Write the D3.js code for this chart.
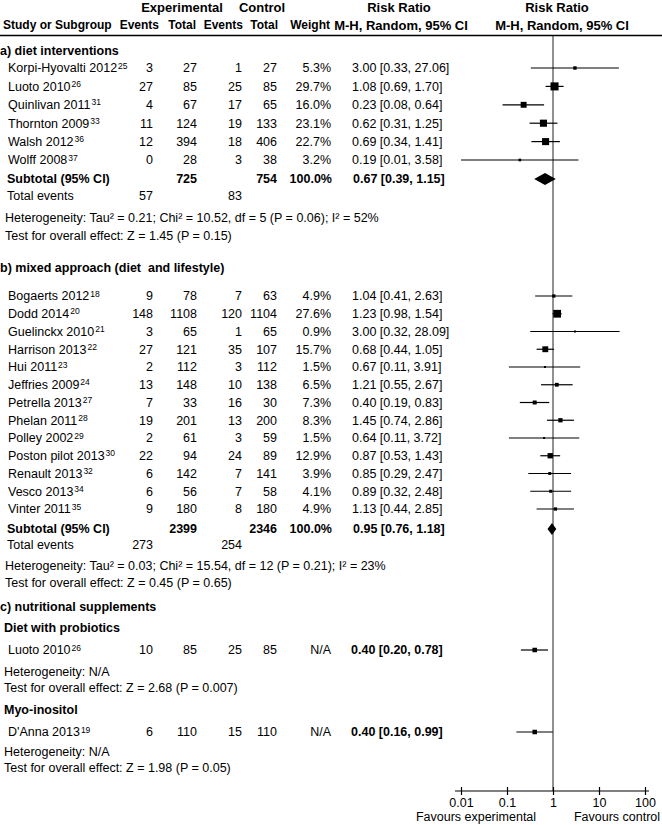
<!DOCTYPE html>
<html>
<head>
<meta charset="utf-8">
<script src="https://cdn.jsdelivr.net/npm/d3@7"></script>
<style>
  body { margin: 0; background: #fff; }
  text { font-family: "Liberation Sans", Arial, sans-serif; font-size: 12.5px; fill: #000; }
  .b { font-weight: bold; }
  .h { font-size: 13px; }
  .hs { font-size: 12px; }
</style>
</head>
<body>
<script>
// studier (gruppe a = diet, b = mixed, c1 = probiotics, c2 = myo-inositol)
const studies = ["Korpi-Hyovalti 2012", "Luoto 2010", "Quinlivan 2011", "Thornton 2009", "Walsh 2012", "Wolff 2008",
  "Bogaerts 2012", "Dodd 2014", "Guelinckx 2010", "Harrison 2013", "Hui 2011", "Jeffries 2009", "Petrella 2013",
  "Phelan 2011", "Polley 2002", "Poston pilot 2013", "Renault 2013", "Vesco 2013", "Vinter 2011",
  "Luoto 2010", "D'Anna 2013"];
const refs = ["25", "26", "31", "33", "36", "37", "18", "20", "21", "22", "23", "24", "27", "28", "29", "30", "32", "34", "35", "26", "19"];
const groups = ["a", "a", "a", "a", "a", "a", "b", "b", "b", "b", "b", "b", "b", "b", "b", "b", "b", "b", "b", "c1", "c2"];
const expEvents = [3, 27, 4, 11, 12, 0, 9, 148, 3, 27, 2, 13, 7, 19, 2, 22, 6, 6, 9, 10, 6];
const expTotal = [27, 85, 67, 124, 394, 28, 78, 1108, 65, 121, 112, 148, 33, 201, 61, 94, 142, 56, 180, 85, 110];
const ctrlEvents = [1, 25, 17, 19, 18, 3, 7, 120, 1, 35, 3, 10, 16, 13, 3, 24, 7, 7, 8, 25, 15];
const ctrlTotal = [27, 85, 65, 133, 406, 38, 63, 1104, 65, 107, 112, 138, 30, 200, 59, 89, 141, 58, 180, 85, 110];
const weights = [5.3, 29.7, 16.0, 23.1, 22.7, 3.2, 4.9, 27.6, 0.9, 15.7, 1.5, 6.5, 7.3, 8.3, 1.5, 12.9, 3.9, 4.1, 4.9, null, null];
const rr = [3.00, 1.08, 0.23, 0.62, 0.69, 0.19, 1.04, 1.23, 3.00, 0.68, 0.67, 1.21, 0.40, 1.45, 0.64, 0.87, 0.85, 0.89, 1.13, 0.40, 0.40];
const ciLow = [0.33, 0.69, 0.08, 0.31, 0.34, 0.01, 0.41, 0.98, 0.32, 0.44, 0.11, 0.55, 0.19, 0.74, 0.11, 0.53, 0.29, 0.32, 0.44, 0.20, 0.16];
const ciHigh = [27.06, 1.70, 0.64, 1.25, 1.41, 3.58, 2.63, 1.54, 28.09, 1.05, 3.91, 2.67, 0.83, 2.86, 3.72, 1.43, 2.47, 2.48, 2.85, 0.78, 0.99];

// subtotaler
const subExpTotal = [725, 2399];
const subCtrlTotal = [754, 2346];
const subExpEvents = [57, 273];
const subCtrlEvents = [83, 254];
const subRR = [0.67, 0.95];
const subLow = [0.39, 0.76];
const subHigh = [1.15, 1.18];
const subHet = ["Heterogeneity: Tau² = 0.21; Chi² = 10.52, df = 5 (P = 0.06); I² = 52%",
  "Heterogeneity: Tau² = 0.03; Chi² = 15.54, df = 12 (P = 0.21); I² = 23%"];
const subTest = ["Test for overall effect: Z = 1.45 (P = 0.15)", "Test for overall effect: Z = 0.45 (P = 0.65)"];
const singleTest = ["Test for overall effect: Z = 2.68 (P = 0.007)", "Test for overall effect: Z = 1.98 (P = 0.05)"];

const axisTicks = [0.01, 0.1, 1, 10, 100];
const tickLabels = ["0.01", "0.1", "1", "10", "100"];

const W = 662, H = 825;
const svg = d3.select("body").append("svg").attr("width", W).attr("height", H);

const x = d3.scaleLog().domain([0.01, 100]).range([461, 645]);
const size = d3.scaleSqrt().domain([0, 30]).range([0, 8.1]);
const fmt = d3.format(".2f");
const col = { e1: 153, n1: 197, e2: 242, n2: 277, w: 331, ci: 352 };

function txt(xp, y, s, opts = {}) {
  const t = svg.append("text").attr("x", xp).attr("y", y).attr("dy", "0.35em")
    .attr("text-anchor", opts.anchor || "start").text(s);
  if (opts.bold) t.classed("b", true);
  if (opts.head) t.classed(opts.head, true);
  return t;
}

function studyName(xp, y, name, ref) {
  const t = txt(xp, y, name);
  t.append("tspan").attr("dy", "-0.45em").attr("dx", 1).style("font-size", "8.5px").text(ref);
}

function ciText(a, l, h) { return fmt(a) + " [" + fmt(l) + ", " + fmt(h) + "]"; }

// header
txt(182, 7, "Experimental", { anchor: "middle", bold: true, head: "h" });
txt(262, 7, "Control", { anchor: "middle", bold: true, head: "h" });
txt(399, 7, "Risk Ratio", { anchor: "middle", bold: true, head: "h" });
txt(557, 7, "Risk Ratio", { anchor: "middle", bold: true, head: "h" });
txt(3, 25, "Study or Subgroup", { bold: true, head: "hs" });
txt(159, 25, "Events", { anchor: "end", bold: true, head: "hs" });
txt(196, 25, "Total", { anchor: "end", bold: true, head: "hs" });
txt(243, 25, "Events", { anchor: "end", bold: true, head: "hs" });
txt(278, 25, "Total", { anchor: "end", bold: true, head: "hs" });
txt(330, 25, "Weight", { anchor: "end", bold: true, head: "hs" });
txt(401, 25, "M-H, Random, 95% CI", { anchor: "middle", bold: true, head: "h" });
txt(562, 25, "M-H, Random, 95% CI", { anchor: "middle", bold: true, head: "h" });
svg.append("line").attr("x1", 0).attr("x2", W).attr("y1", 35.5).attr("y2", 35.5)
  .attr("stroke", "#000").attr("stroke-width", 1.5);

// nul-linje
svg.append("line").attr("x1", x(1)).attr("x2", x(1)).attr("y1", 36).attr("y2", 791)
  .attr("stroke", "#222").attr("stroke-width", 1);

function studyRow(i, y, boldCI) {
  studyName(8, y, studies[i], refs[i]);
  txt(col.e1, y, expEvents[i], { anchor: "end" });
  txt(col.n1, y, expTotal[i], { anchor: "end" });
  txt(col.e2, y, ctrlEvents[i], { anchor: "end" });
  txt(col.n2, y, ctrlTotal[i], { anchor: "end" });
  txt(col.w, y, weights[i] == null ? "N/A" : weights[i].toFixed(1) + "%", { anchor: "end" });
  txt(boldCI ? col.ci - 1 : col.ci, y, ciText(rr[i], ciLow[i], ciHigh[i]), { bold: boldCI });
  svg.append("line").attr("x1", x(ciLow[i])).attr("x2", x(ciHigh[i])).attr("y1", y).attr("y2", y)
    .attr("stroke", "#000").attr("stroke-width", 1.2);
  const s = weights[i] == null ? 4.5 : Math.max(2, size(weights[i]));
  svg.append("rect").attr("x", x(rr[i]) - s / 2).attr("y", y - s / 2).attr("width", s).attr("height", s).attr("fill", "#000");
}

function subtotal(g, y) {
  txt(7, y, "Subtotal (95% CI)", { bold: true });
  txt(col.n1, y, subExpTotal[g], { anchor: "end", bold: true });
  txt(col.n2, y, subCtrlTotal[g], { anchor: "end", bold: true });
  txt(col.w + 1, y, "100.0%", { anchor: "end", bold: true });
  txt(col.ci + 1, y, ciText(subRR[g], subLow[g], subHigh[g]), { bold: true });
  const h = 6;
  svg.append("path").attr("d", d3.line()([[x(subLow[g]), y], [x(subRR[g]), y - h], [x(subHigh[g]), y], [x(subRR[g]), y + h]]) + "Z")
    .attr("fill", "#000");
}

function groupStudies(g) { return d3.range(studies.length).filter(i => groups[i] === g); }

// a) diet
txt(0, 51, "a) diet interventions", { bold: true });
let y = 68;
groupStudies("a").forEach(i => { studyRow(i, y); y += 18.4; });
subtotal(0, 179);
txt(7, 196, "Total events");
txt(col.e1, 196, subExpEvents[0], { anchor: "end" });
txt(col.e2, 196, subCtrlEvents[0], { anchor: "end" });
txt(5, 218, subHet[0]);
txt(5, 236, subTest[0]);

// b) mixed
txt(0, 268, "b) mixed approach (diet  and lifestyle)", { bold: true }).style("white-space", "pre");
y = 296;
groupStudies("b").forEach(i => { studyRow(i, y); y += 17.75; });
subtotal(1, 529);
txt(7, 545, "Total events");
txt(col.e1, 545, subExpEvents[1], { anchor: "end" });
txt(col.e2, 545, subCtrlEvents[1], { anchor: "end" });
txt(5, 566, subHet[1]);
txt(5, 583, subTest[1]);

// c) supplements
txt(0, 607, "c) nutritional supplements", { bold: true });
txt(4, 628, "Diet with probiotics", { bold: true });
studyRow(groupStudies("c1")[0], 650, true);
txt(4, 672, "Heterogeneity: N/A");
txt(4, 688, singleTest[0]);
txt(4, 710, "Myo-inositol", { bold: true });
studyRow(groupStudies("c2")[0], 732, true);
txt(4, 752, "Heterogeneity: N/A");
txt(4, 768, singleTest[1]);

// akse
const axis = d3.axisBottom(x).tickValues(axisTicks).tickFormat((d, i) => tickLabels[i]).tickSizeInner(4).tickSizeOuter(0).tickPadding(3);
const ax = svg.append("g").attr("transform", "translate(0,791)").call(axis);
ax.select(".domain").attr("d", `M${x(0.01) - 6},0H${x(100) + 4}`).attr("stroke-width", 1.2);
ax.selectAll(".tick line").attr("y1", -4).attr("stroke-width", 1.2);
ax.selectAll(".tick text").attr("font-family", "Liberation Sans, Arial, sans-serif").attr("font-size", 12.5).attr("fill", "#000");
txt(476, 817, "Favours experimental", { anchor: "middle" });
txt(617, 817, "Favours control", { anchor: "middle" });
</script>
</body>
</html>
